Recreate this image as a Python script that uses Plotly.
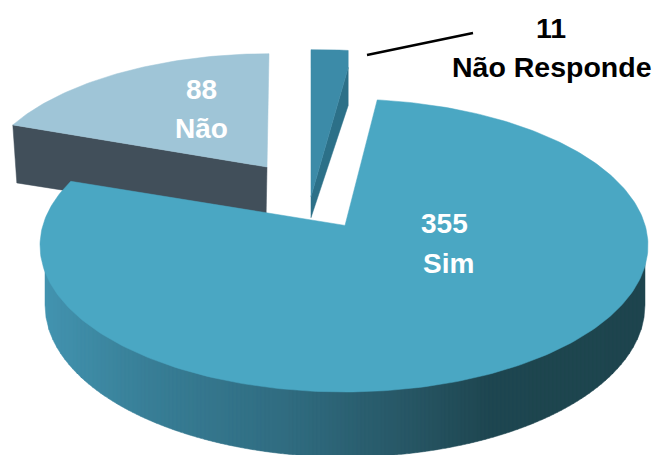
import math
import plotly.graph_objects as go

# Data
categories = ["Sim", "Não", "Não Responde"]
values = [355, 88, 11]
value_labels = ["355", "88", "11"]

# Style
SIM_TOP = "#4aa7c3"
NAO_TOP = "#9fc5d7"
NAO_SIDE = "#414f5a"
NR_TOP = "#3c8ba8"
NR_SIDE = "#2c7088"
GRAD_STOPS = [(45, (66, 147, 175)), (150, (56, 126, 150)), (300, (47, 106, 126)),
              (420, (38, 84, 98)), (490, (30, 70, 80)), (645, (30, 68, 78))]

# Pie geometry: projected disc, in picture pixels
CX, CY, RX, RY = 344.0, 245.5, 304.0, 146.5
APEX_K = 0.137          # perspective shift of the disc centre
START_DEG = 7.2
BX, BY, BRX, BRY = 345.0, 305.0, 300.0, 152.0   # lower rim of the disc
APEX = (345.0, CY - RY * APEX_K)


def project(theta_deg):
    """Angle clockwise from the top of the disc -> picture position (perspective)."""
    t = math.radians(theta_deg)
    x, y = math.sin(t), math.cos(t)
    w = 1 + APEX_K * y
    u = x * math.sqrt(1 - APEX_K ** 2) / w
    v = (y + APEX_K) / w
    return CX + RX * u, CY - RY * v


def arc(a0, a1, step=1.0):
    n = max(2, int(abs(a1 - a0) / step))
    return [project(a0 + (a1 - a0) * i / n) for i in range(n + 1)]


def moved(pts, apex, a, b, c, d):
    out = []
    for x, y in pts:
        dx, dy = x - APEX[0], y - APEX[1]
        out.append((apex[0] + a * dx + b * dy, apex[1] + c * dx + d * dy))
    return out


def lerp_color(x):
    for (x0, c0), (x1, c1) in zip(GRAD_STOPS, GRAD_STOPS[1:]):
        if x <= x1:
            f = (x - x0) / (x1 - x0)
            return "rgb(%d,%d,%d)" % tuple(round(p + (q - p) * f) for p, q in zip(c0, c1))
    return "rgb(%d,%d,%d)" % GRAD_STOPS[-1][1]


def poly(fig, pts, color):
    xs = [p[0] for p in pts] + [pts[0][0]]
    ys = [p[1] for p in pts] + [pts[0][1]]
    fig.add_trace(go.Scatter(x=xs, y=ys, mode="lines", fill="toself", fillcolor=color,
                             line=dict(color=color, width=0.5), hoverinfo="skip",
                             showlegend=False))


def low(v):
    return BY + BRY * math.sqrt(max(0, 1 - ((v - BX) / BRX) ** 2))


total = sum(values)
spans = [v / total * 360 for v in values]
sim_a = (START_DEG, START_DEG + spans[0])
nao_a = (sim_a[1], sim_a[1] + spans[1])
nr_a = (nao_a[1], nao_a[1] + spans[2])

fig = go.Figure()

# Não: side then top
nao_arc = moved(arc(*nao_a), (267.0, 167.0), 0.939, -0.0755, 0.0092, 0.896)
c0 = nao_arc[0]
poly(fig, [c0, (267.0, 167.0), (266.0, 222.0), (c0[0] + 4, c0[1] + 58)], NAO_SIDE)
poly(fig, nao_arc + [(267.0, 167.0)], NAO_TOP)

# Não Responde: side then top
nr_arc = moved(arc(*nr_a), (318.4, 166.6), 0.925, 0, 0, 0.925)
nl, nr = nr_arc[0], nr_arc[-1]
poly(fig, [(nr[0], nr[1] + 17), (nr[0], nr[1] + 55), (nl[0], nl[1] + 168), (nl[0], nl[1] + 147)], NR_SIDE)
poly(fig, nr_arc + [(nr[0], nr[1] + 17), (nl[0], nl[1] + 147)], NR_TOP)

# Sim: shaded rim as narrow strips, then the top
STRIP = 4
x = BX - BRX
while x < BX + BRX:
    x1 = min(x + STRIP, BX + BRX)
    pts = [(x + (x1 - x) * i / 4, low(x + (x1 - x) * i / 4)) for i in range(5)]
    poly(fig, [(x, CY)] + pts + [(x1, CY)], lerp_color((x + x1) / 2))
    x = x1
poly(fig, [APEX] + arc(*sim_a), SIM_TOP)

FONT = "Liberation Sans"
labels = [
    (value_labels[2], 551, 28, "black", 28.5), (categories[2], 552, 67, "black", 28.5),
    (value_labels[0], 444, 223, "white", 28), (categories[0], 448, 263, "white", 28),
    (value_labels[1], 201, 89, "white", 28), (categories[1], 201, 128, "white", 28),
]
annotations = [dict(x=x_, y=y_, text="<b>%s</b>" % t, showarrow=False, xanchor="center",
                    yanchor="middle", font=dict(family=FONT, size=s, color=c))
               for t, x_, y_, c, s in labels]

fig.update_layout(
    width=657, height=455, margin=dict(l=0, r=0, t=0, b=0),
    paper_bgcolor="white", plot_bgcolor="white", showlegend=False,
    xaxis=dict(range=[0, 657], visible=False, fixedrange=True),
    yaxis=dict(range=[455, 0], visible=False, fixedrange=True),
    annotations=annotations,
    shapes=[dict(type="line", x0=367, y0=55, x1=473, y1=33, line=dict(color="black", width=2.5))],
)
fig.write_html("out.html", config=dict(displayModeBar=False),
               post_script="document.body.style.margin='0';document.body.style.overflow='hidden';")
